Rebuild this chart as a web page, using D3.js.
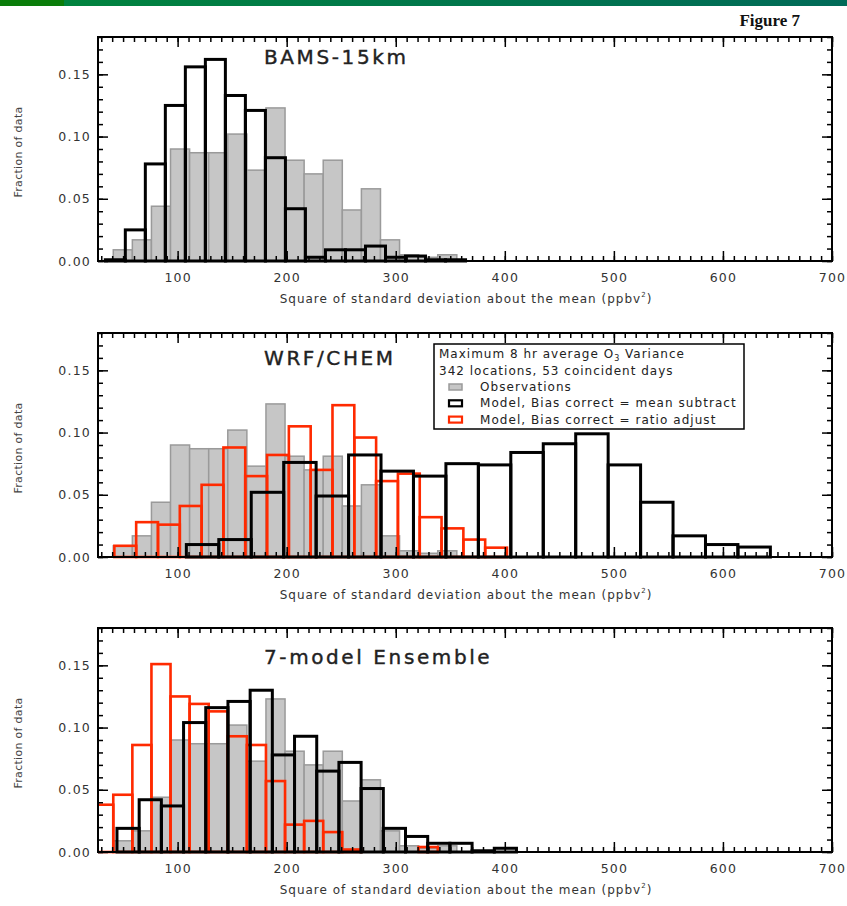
<!DOCTYPE html>
<html>
<head>
<meta charset="utf-8">
<script src="https://cdn.jsdelivr.net/npm/d3@7"></script>
<style>
  body { margin: 0; background: #fff; }
  text { font-family: 'DejaVu Sans', sans-serif; fill: #222; }
</style>
</head>
<body>
<div id="chart"></div>
<script>
// axes
const xDomain = [27, 700]
const yDomain = [0, 0.18]
const xTickValues = [100, 200, 300, 400, 500, 600, 700]
const yTickValues = [0, 0.05, 0.10, 0.15]
const panelTitles = ['BAMS-15km', 'WRF/CHEM', '7-model Ensemble']

// histograms: [first bin edge, bin width] and the fraction in each bin
const obsBins = [41, 17.5]
const observations = [0.009, 0.017, 0.044, 0.090, 0.087, 0.087, 0.102, 0.073, 0.123,
  0.081, 0.070, 0.081, 0.041, 0.058, 0.017, 0.005, 0.003, 0.005]

const bamsBins = [33.7, 18.35]
const bamsMeanSubtract = [0.001, 0.025, 0.078, 0.125, 0.156, 0.162, 0.133, 0.121, 0.083,
  0.042, 0.003, 0.009, 0.009, 0.012, 0.003, 0.004, 0.001, 0.001]

const wrfMeanBins = [108, 29.75]
const wrfMeanSubtract = [0.010, 0.014, 0.052, 0.076, 0.049, 0.082, 0.069, 0.065, 0.075,
  0.074, 0.084, 0.091, 0.099, 0.074, 0.044, 0.017, 0.010, 0.008]
const wrfRatioBins = [42, 20]
const wrfRatioAdjust = [0.009, 0.028, 0.026, 0.041, 0.058, 0.088, 0.065, 0.082, 0.105,
  0.070, 0.122, 0.096, 0.061, 0.067, 0.032, 0.023, 0.014, 0.0075]

const ensMeanBins = [44.4, 20.35]
const ensMeanSubtract = [0.019, 0.042, 0.037, 0.104, 0.116, 0.121, 0.130, 0.078, 0.093,
  0.065, 0.072, 0.051, 0.019, 0.0125, 0.007, 0.007, 0.001, 0.003]
const ensRatioBins = [23.5, 17.5]
const ensRatioAdjust = [0.038, 0.046, 0.086, 0.151, 0.125, 0.119, 0.113, 0.093, 0.086,
  0.057, 0.022, 0.025, 0.016, 0.002, 0, 0, 0, 0.004]

const legendLines = ['Maximum 8 hr average O', '342 locations, 53 coincident days']
const legendItems = ['Observations', 'Model, Bias correct = mean subtract', 'Model, Bias correct = ratio adjust']

const styles = {
  obs: {fill: '#c6c6c6', stroke: '#9a9a9a', width: 1.5},
  mean: {fill: 'none', stroke: '#000', width: 3},
  ratio: {fill: 'none', stroke: '#ff2a00', width: 2.6}
}

const panels = [
  {title: panelTitles[0], titleY: 64, series: [
    {bins: obsBins, values: observations, style: styles.obs},
    {bins: bamsBins, values: bamsMeanSubtract, style: styles.mean}]},
  {title: panelTitles[1], titleY: 365, series: [
    {bins: obsBins, values: observations, style: styles.obs},
    {bins: wrfRatioBins, values: wrfRatioAdjust, style: styles.ratio},
    {bins: wrfMeanBins, values: wrfMeanSubtract, style: styles.mean}]},
  {title: panelTitles[2], titleY: 664, series: [
    {bins: obsBins, values: observations, style: styles.obs},
    {bins: ensRatioBins, values: ensRatioAdjust, style: styles.ratio},
    {bins: ensMeanBins, values: ensMeanSubtract, style: styles.mean}]}
]

const layout = {left: 98, right: 832, tops: [37, 333, 628], height: 224}

const svg = d3.select('#chart').append('svg')
  .attr('width', 847)
  .attr('height', 906)
const defs = svg.append('defs')

// green banner across the top
const grad = defs.append('linearGradient').attr('id', 'banner')
grad.append('stop').attr('offset', '0%').attr('stop-color', '#00853c')
grad.append('stop').attr('offset', '100%').attr('stop-color', '#006a58')
svg.append('rect').attr('x', 0).attr('y', 0).attr('width', 847).attr('height', 6).attr('fill', 'url(#banner)')
svg.append('rect').attr('x', 0).attr('y', 0).attr('width', 64).attr('height', 6).attr('fill', '#0a7d0a')

svg.append('text')
  .attr('x', 800)
  .attr('y', 26)
  .attr('text-anchor', 'end')
  .style('font-family', "'Liberation Serif', serif")
  .style('font-weight', 'bold')
  .style('font-size', '17px')
  .style('fill', '#111')
  .text('Figure 7')

const x = d3.scaleLinear().domain(xDomain).range([layout.left, layout.right])

panels.forEach((p, i) => {
  const top = layout.tops[i]
  const bottom = top + layout.height
  const y = d3.scaleLinear().domain(yDomain).range([bottom, top])
  const g = svg.append('g')

  defs.append('clipPath').attr('id', 'clip' + i)
    .append('rect')
    .attr('x', layout.left).attr('y', top - 2)
    .attr('width', layout.right - layout.left).attr('height', layout.height + 4)

  p.series.forEach(s => {
    g.append('g')
      .attr('clip-path', 'url(#clip' + i + ')')
      .selectAll('rect')
      .data(s.values)
      .join('rect')
      .attr('x', (d, k) => x(s.bins[0] + k * s.bins[1]))
      .attr('width', (d, k) => x(s.bins[0] + (k + 1) * s.bins[1]) - x(s.bins[0] + k * s.bins[1]))
      .attr('y', d => y(d))
      .attr('height', d => y(0) - y(d))
      .attr('fill', s.style.fill)
      .attr('stroke', s.style.stroke)
      .attr('stroke-width', s.style.width)
  })

  // axes with inward ticks on all four sides
  const minorX = d3.range(30, 701, 10)
  const minorY = d3.range(0, 0.181, 0.01)
  const axes = [
    [d3.axisBottom(x).tickValues(xTickValues).tickSize(-10).tickPadding(12).tickFormat(d3.format('d')), bottom, 0],
    [d3.axisBottom(x).tickValues(minorX).tickSize(-5).tickFormat(''), bottom, 0],
    [d3.axisTop(x).tickValues(xTickValues).tickSize(-10).tickFormat(''), top, 0],
    [d3.axisTop(x).tickValues(minorX).tickSize(-5).tickFormat(''), top, 0],
    [d3.axisLeft(y).tickValues(yTickValues).tickSize(-10).tickPadding(7).tickFormat(d3.format('.2f')), 0, layout.left],
    [d3.axisLeft(y).tickValues(minorY).tickSize(-5).tickFormat(''), 0, layout.left],
    [d3.axisRight(y).tickValues(yTickValues).tickSize(-10).tickFormat(''), 0, layout.right],
    [d3.axisRight(y).tickValues(minorY).tickSize(-5).tickFormat(''), 0, layout.right]
  ]
  axes.forEach(([ax, ty, tx]) => {
    const a = g.append('g').attr('transform', `translate(${tx},${ty})`).call(ax)
    a.select('.domain').remove()
    a.selectAll('line').attr('stroke', '#000').attr('stroke-width', 1.5)
    a.selectAll('text')
      .style('font-family', "'DejaVu Sans', sans-serif")
      .style('font-size', '12.5px')
      .style('letter-spacing', '1.2px')
      .style('fill', '#333')
  })

  g.append('rect')
    .attr('x', layout.left).attr('y', top)
    .attr('width', layout.right - layout.left).attr('height', layout.height)
    .attr('fill', 'none').attr('stroke', '#000').attr('stroke-width', 2)

  g.append('text')
    .attr('x', 264)
    .attr('y', p.titleY)
    .style('font-size', '20px')
    .style('letter-spacing', '2.6px')
    .style('stroke', '#222')
    .style('stroke-width', 0.4)
    .text(p.title)

  const xt = g.append('text')
    .attr('x', 466)
    .attr('y', bottom + 42)
    .attr('text-anchor', 'middle')
    .style('font-size', '12px')
    .style('letter-spacing', '1px')
    .style('fill', '#333')
  xt.append('tspan').text('Square of standard deviation about the mean (ppbv')
  xt.append('tspan').attr('dy', -6).style('font-size', '7px').text('2')
  xt.append('tspan').attr('dy', 6).text(')')

  g.append('text')
    .attr('transform', `translate(22,${top + layout.height / 2 + 3}) rotate(-90)`)
    .attr('text-anchor', 'middle')
    .style('font-size', '11px')
    .style('letter-spacing', '0.3px')
    .style('fill', '#444')
    .text('Fraction of data')
})

// legend in the WRF/CHEM panel
const lg = svg.append('g')
lg.append('rect')
  .attr('x', 434).attr('y', 344).attr('width', 310).attr('height', 85)
  .attr('fill', '#fff').attr('stroke', '#000').attr('stroke-width', 1.5)
const l1 = lg.append('text').attr('x', 439).attr('y', 358)
  .style('font-size', '12px').style('letter-spacing', '1px')
l1.append('tspan').text(legendLines[0])
l1.append('tspan').attr('dy', 3).style('font-size', '8px').text('3')
l1.append('tspan').attr('dy', -3).text(' Variance')
lg.append('text').attr('x', 439).attr('y', 375)
  .style('font-size', '12px').style('letter-spacing', '1px')
  .text(legendLines[1])
const legendStyles = [styles.obs, styles.mean, styles.ratio]
legendItems.forEach((t, k) => {
  const cy = 387 + k * 16.3
  lg.append('rect')
    .attr('x', 449).attr('y', cy - 3).attr('width', 13).attr('height', 6)
    .attr('fill', legendStyles[k].fill === 'none' ? '#fff' : legendStyles[k].fill)
    .attr('stroke', legendStyles[k].stroke)
    .attr('stroke-width', k === 0 ? 1.5 : 2.2)
  lg.append('text').attr('x', 480).attr('y', cy + 4)
    .style('font-size', '12px').style('letter-spacing', '1.05px')
    .text(t)
})
</script>
</body>
</html>
